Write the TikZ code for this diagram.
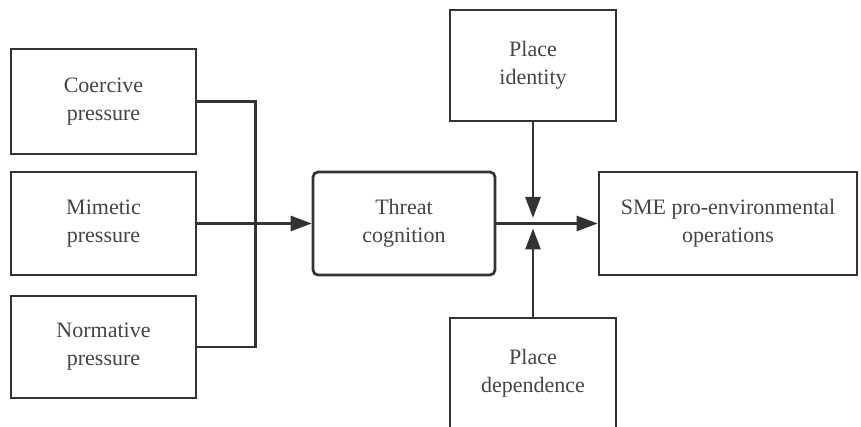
\documentclass[tikz,border=0pt]{standalone}
\usepackage{fontspec}
\setmainfont{Liberation Serif}
\usetikzlibrary{arrows.meta}
\definecolor{ink}{HTML}{333333}
\definecolor{txt}{HTML}{444444}
\begin{document}
\begin{tikzpicture}[x=1pt,y=-1pt,
  box/.style={draw=ink,line width=2.7pt,inner sep=0pt,align=center,text=txt,
    font=\fontsize{22}{28}\selectfont},
  rbox/.style={box,rounded corners=5pt},
  conn/.style={draw=ink,line width=2.7pt},
  arr/.style={conn,-{Triangle[length=21pt,width=15pt]}}]
\useasboundingbox (0,0) rectangle (861,427);
\node[box,minimum width=185pt,minimum height=105pt] (co) at (103.5,101.5) {Coercive\\pressure};
\node[box,minimum width=185pt,minimum height=103pt] (mi) at (103.5,223.5) {Mimetic\\pressure};
\node[box,minimum width=185pt,minimum height=102pt] (no) at (103.5,347) {Normative\\pressure};
\node[rbox,minimum width=182pt,minimum height=103pt] (th) at (404,223.5) {Threat\\cognition};
\node[box,minimum width=166pt,minimum height=111pt] (pi) at (533,65.5) {Place\\identity};
\node[box,minimum width=258pt,minimum height=103pt] (sme) at (728,223.5) {SME pro-environmental\\operations};
\node[box,minimum width=166pt,minimum height=111pt] (pd) at (533,373.5) {Place\\dependence};
\coordinate (mt) at (533,218);
\coordinate (mb) at (533,228.5);
\draw[conn] (co.east) -- ++(58,0) |- (no.east);
\draw[arr] (mi.east) -- (th.west);
\draw[arr] (th.east) -- (sme.west);
\draw[arr] (pi.south) -- (mt);
\draw[arr] (pd.north) -- (mb);
\end{tikzpicture}
\end{document}
